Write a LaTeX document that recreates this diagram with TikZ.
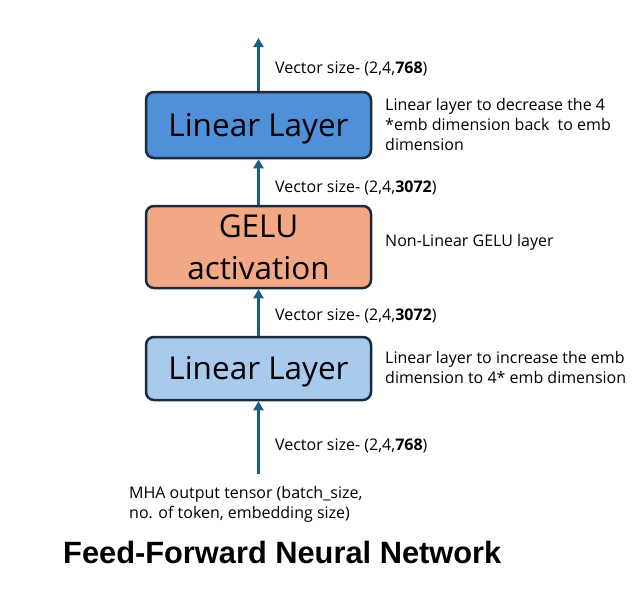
\documentclass[tikz,border=0pt]{standalone}
\usepackage{fontspec}
\setmainfont{Open Sans}
\newfontfamily\titlefont{Liberation Sans}
\usetikzlibrary{arrows.meta}
\definecolor{arrowc}{HTML}{1A5F80}
\definecolor{edgec}{HTML}{1C2B3E}
\definecolor{topblue}{HTML}{4F90D8}
\definecolor{gelufill}{HTML}{F2A884}
\definecolor{lightblue}{HTML}{A8CAEC}
\tikzset{
  layerbox/.style={draw=edgec, line width=2.5pt, rounded corners=8pt, minimum width=225pt, align=center, font=\fontsize{31.5}{42}\selectfont, inner sep=0pt},
  flow/.style={draw=arrowc, line width=2.8pt, -{Triangle[width=10pt,length=9pt]}},
  sizelabel/.style={anchor=base west, font=\fontsize{16}{20}\selectfont, inner sep=0pt},
  sidelabel/.style={anchor=base west, align=left, font=\fontsize{16}{20}\selectfont, inner sep=0pt},
}
\begin{document}
\begin{tikzpicture}[x=1pt,y=-1pt]
\useasboundingbox (0,0) rectangle (640,589);
\node[layerbox, fill=lightblue, minimum height=63pt, text depth=1pt] (lin1) at (258.5,368.5) {Linear Layer};
\node[layerbox, fill=gelufill, minimum height=82pt] (gelu) at (258.5,247) {GELU\\activation};
\node[layerbox, fill=topblue, minimum height=66pt, text depth=1pt] (lin2) at (258.5,125) {Linear Layer};
\coordinate (in) at (258.5,474);
\coordinate (out) at (258.5,38);
\draw[flow] (in) -- (lin1.south);
\draw[flow] (lin1.north) -- (gelu.south);
\draw[flow] (gelu.north) -- (lin2.south);
\draw[flow] (lin2.north) -- (out);
\node[sizelabel] (s4) at (275,73) {Vector size- (2,4,\textbf{768})};
\node[sizelabel] (s3) at (275,192) {Vector size- (2,4,\textbf{3072})};
\node[sizelabel] (s2) at (275,320) {Vector size- (2,4,\textbf{3072})};
\node[sizelabel] (s1) at (275,450) {Vector size- (2,4,\textbf{768})};
\node[sidelabel] (d3) at (385,150) {Linear layer to decrease the 4\\*emb dimension back\ \ to emb\\dimension};
\node[sizelabel] (d2) at (385,246) {Non-Linear GELU layer};
\node[sidelabel] (d1) at (385,383) {Linear layer to increase the emb\\dimension to 4* emb dimension};
\node[sidelabel] (mha) at (129,518) {MHA output tensor (batch\_size,\\no. of token, embedding size)};
\node[anchor=base west, inner sep=0pt, font=\titlefont\fontsize{30.8}{32}\selectfont\bfseries] (title) at (63,563) {Feed-Forward Neural Network};
\end{tikzpicture}
\end{document}
